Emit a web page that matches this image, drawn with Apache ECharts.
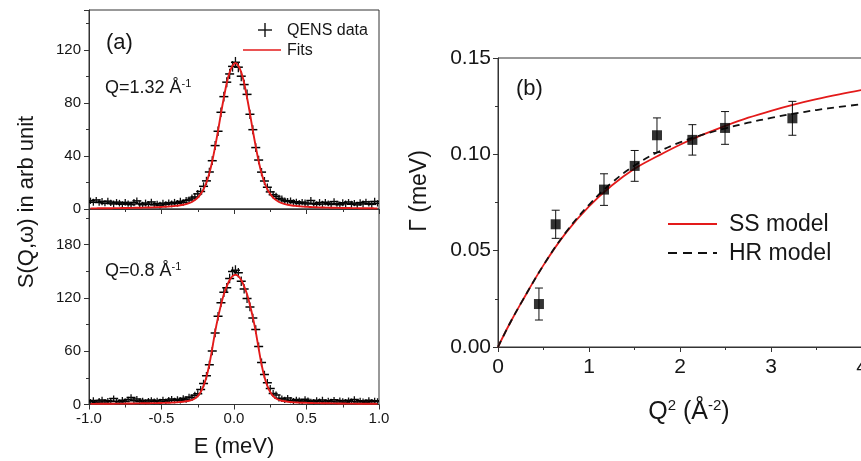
<!DOCTYPE html>
<html><head><meta charset="utf-8">
<script src="https://cdn.jsdelivr.net/npm/echarts@6/dist/echarts.min.js"></script>
<style>html,body{margin:0;padding:0;background:#fff}#c{width:861px;height:461px}</style>
</head><body><div id="c"></div>
<script>
// ---------- panel (a): energy transfer grid (meV) ----------
const energy = [
-0.99,-0.97,-0.95,-0.93,-0.91,-0.89,-0.87,-0.85,-0.83,-0.81,
-0.79,-0.77,-0.75,-0.73,-0.71,-0.69,-0.67,-0.65,-0.63,-0.61,
-0.59,-0.57,-0.55,-0.53,-0.51,-0.49,-0.47,-0.45,-0.43,-0.41,
-0.39,-0.37,-0.35,-0.33,-0.31,-0.29,-0.27,-0.25,-0.23,-0.21,
-0.19,-0.17,-0.15,-0.13,-0.11,-0.09,-0.07,-0.05,-0.03,-0.01,
0.01,0.03,0.05,0.07,0.09,0.11,0.13,0.15,0.17,0.19,
0.21,0.23,0.25,0.27,0.29,0.31,0.33,0.35,0.37,0.39,
0.41,0.43,0.45,0.47,0.49,0.51,0.53,0.55,0.57,0.59,
0.61,0.63,0.65,0.67,0.69,0.71,0.73,0.75,0.77,0.79,
0.81,0.83,0.85,0.87,0.89,0.91,0.93,0.95,0.97,0.99];

// Q = 1.32 1/A
const qensTop = [
6.2,5.1,6.8,4.9,5.6,4.2,5.9,4.6,3.8,5.2,
4.4,3.6,5.0,4.1,3.3,4.8,6.1,3.9,3.2,4.5,
3.6,5.3,3.1,4.0,2.9,4.4,3.5,4.8,3.9,5.1,
4.3,5.8,4.9,6.4,6.9,8.2,9.1,11.4,13.2,17.1,
21.2,27.9,36.4,47.8,58.6,72.9,84.7,95.6,101.8,107.5,
110.6,106.9,100.1,93.8,86.4,71.4,59.8,46.3,36.9,27.8,
21.1,16.4,12.9,10.8,9.6,8.1,7.4,6.2,5.6,6.3,
4.8,5.5,4.1,5.2,4.6,3.8,6.4,4.3,3.5,4.9,
3.7,5.1,4.2,3.4,5.6,4.0,3.2,4.7,3.9,5.3,
3.6,4.4,3.1,4.8,3.8,5.4,4.1,3.5,5.7,4.3];
const errTop = [
2.4,2.6,2.3,2.5,2.7,2.2,2.5,2.4,2.6,2.3,
2.5,2.2,2.6,2.4,2.3,2.7,2.5,2.4,2.2,2.6,
2.3,2.5,2.4,2.2,2.6,2.5,2.3,2.4,2.6,2.5,
2.5,2.6,2.4,2.7,2.6,2.8,2.7,2.9,2.8,3.0,
3.1,3.2,3.3,3.4,3.5,3.6,3.7,3.8,3.9,4.0,
4.0,3.9,3.8,3.7,3.6,3.5,3.4,3.3,3.2,3.1,
3.0,2.9,2.8,2.8,2.7,2.6,2.7,2.5,2.6,2.4,
2.5,2.3,2.6,2.4,2.5,2.2,2.7,2.4,2.3,2.6,
2.5,2.4,2.2,2.6,2.5,2.3,2.4,2.7,2.5,2.2,
2.6,2.4,2.3,2.5,2.6,2.4,2.2,2.5,2.7,2.4];
const fitTop = [
0.47,0.49,0.5,0.52,0.54,0.56,0.58,0.61,0.63,0.66,
0.69,0.72,0.75,0.79,0.83,0.87,0.92,0.97,1.02,1.08,
1.15,1.22,1.3,1.4,1.5,1.6,1.75,1.9,2.1,2.3,
2.5,2.8,3.2,3.7,4.4,5.3,6.7,8.6,11.3,15,
20,27,36,47,59,72,84,95,103,108,
110,108,103,95,84,72,59,47,36,27,
20,15,11.3,8.6,6.7,5.3,4.4,3.7,3.2,2.8,
2.5,2.3,2.1,1.9,1.75,1.6,1.5,1.4,1.3,1.22,
1.15,1.08,1.02,0.97,0.92,0.87,0.83,0.79,0.75,0.72,
0.69,0.66,0.63,0.61,0.58,0.56,0.54,0.52,0.5,0.49];

// Q = 0.8 1/A
const qensBot = [
3.1,4.6,2.4,3.8,5.2,2.9,4.1,3.3,6.8,3.6,
2.7,4.9,3.4,5.6,7.9,4.2,6.3,3.1,4.7,2.6,
3.9,5.1,3.3,4.4,2.8,5.3,3.7,4.9,6.2,4.5,
5.8,4.6,6.9,5.4,8.3,7.6,10.4,12.1,16.8,23.6,
32.4,44.8,60.1,80.6,99.3,114.6,126.2,131.5,141.8,149.6,
151.2,148.3,138.7,130.1,119.4,109.8,97.2,84.5,65.3,47.2,
33.8,24.6,17.9,12.4,10.6,7.1,6.4,5.2,7.3,4.8,
3.9,5.6,4.3,3.2,5.9,4.4,3.6,2.8,4.7,3.5,
5.2,2.9,4.1,3.3,5.4,2.7,4.5,3.8,2.6,4.9,
3.4,5.7,2.9,4.2,3.6,2.4,4.8,3.2,4.1,3.5];
const errBot = [
3.2,3.5,3.0,3.4,3.6,3.1,3.3,3.5,3.2,3.4,
3.0,3.6,3.3,3.1,3.5,3.4,3.2,3.6,3.0,3.3,
3.5,3.1,3.4,3.2,3.6,3.3,3.0,3.5,3.4,3.2,
3.4,3.5,3.6,3.5,3.7,3.8,3.9,4.0,4.1,4.2,
4.3,4.5,4.6,4.8,4.9,5.0,5.1,5.2,5.3,5.4,
5.5,5.4,5.3,5.2,5.1,5.0,4.9,4.8,4.6,4.5,
4.3,4.2,4.1,4.0,3.9,3.8,3.7,3.6,3.5,3.5,
3.4,3.2,3.5,3.1,3.4,3.6,3.0,3.3,3.5,3.2,
3.4,3.1,3.6,3.3,3.0,3.5,3.4,3.2,3.6,3.1,
3.3,3.5,3.0,3.4,3.2,3.6,3.3,3.1,3.5,3.4];
const fitBot = [
0.72,0.74,0.76,0.78,0.8,0.83,0.86,0.89,0.92,0.95,
0.98,1.02,1.06,1.1,1.15,1.2,1.25,1.3,1.35,1.4,
1.45,1.5,1.55,1.6,1.7,1.8,1.9,2.0,2.1,2.3,
2.5,2.8,3.1,3.6,4.2,5.2,6.8,9.5,14,21,
31,45,63,82,98,112,124,133,140,144.5,
146,144.5,140,133,124,112,98,82,63,45,
31,21,14,9.5,6.8,5.2,4.2,3.6,3.1,2.8,
2.5,2.3,2.1,2.0,1.9,1.8,1.7,1.6,1.55,1.5,
1.45,1.4,1.35,1.3,1.25,1.2,1.15,1.1,1.06,1.02,
0.98,0.95,0.92,0.89,0.86,0.83,0.8,0.78,0.76,0.74];

// ---------- panel (b) ----------
const q2 = [0.45, 0.634, 1.165, 1.502, 1.747, 2.136, 2.495, 3.235];
const gamma = [0.0223, 0.0637, 0.0817, 0.0940, 0.1099, 0.1075, 0.1137, 0.1187];
const gammaErr = [0.0083, 0.0073, 0.0082, 0.0080, 0.0090, 0.0079, 0.0085, 0.0088];
const modelQ2 = [0, 0.125, 0.25, 0.5, 0.75, 1.0, 1.25, 1.5, 1.75, 2.0, 2.25, 2.5, 2.75, 3.0, 3.25, 3.5, 3.75, 4.0];
const ssModel = [0, 0.0118, 0.0225, 0.0425, 0.0595, 0.0730, 0.0838, 0.0925, 0.0990, 0.1050, 0.1102, 0.1148, 0.1190, 0.1226, 0.1258, 0.1286, 0.1311, 0.1334];
const hrModel = [0, 0.0118, 0.0225, 0.0425, 0.0598, 0.0738, 0.0852, 0.0942, 0.1010, 0.1062, 0.1102, 0.1135, 0.1164, 0.1189, 0.1211, 0.1230, 0.1246, 0.1260];

const FONT = '"Liberation Sans", Arial, sans-serif';
const TXT = '#161616';
const AX = '#333';

function crossItem(params, api) {
  const x = api.value(0), y = api.value(1), e = api.value(2);
  const c = api.coord([x, y]), t = api.coord([x, y + e]), b = api.coord([x, y - e]);
  return { type: 'group', children: [
    { type: 'line', shape: { x1: c[0] - 4.5, y1: c[1], x2: c[0] + 4.5, y2: c[1] }, style: { stroke: '#000', lineWidth: 1.5 } },
    { type: 'line', shape: { x1: c[0], y1: t[1], x2: c[0], y2: b[1] }, style: { stroke: '#111', lineWidth: 1.3 } }
  ]};
}
function errItem(params, api) {
  const x = api.value(0), lo = api.value(1), hi = api.value(2);
  const a = api.coord([x, hi]), b = api.coord([x, lo]);
  const s = { stroke: '#111', lineWidth: 1 };
  return { type: 'group', children: [
    { type: 'line', shape: { x1: a[0], y1: a[1], x2: b[0], y2: b[1] }, style: s },
    { type: 'line', shape: { x1: a[0] - 4, y1: a[1], x2: a[0] + 4, y2: a[1] }, style: s },
    { type: 'line', shape: { x1: b[0] - 4, y1: b[1], x2: b[0] + 4, y2: b[1] }, style: s }
  ]};
}

function xAx(grid, min, max, interval, showLabel, fs, margin, fmt) {
  return {
    type: 'value', gridIndex: grid, min: min, max: max, interval: interval,
    axisLine: { show: true, onZero: false, lineStyle: { color: AX, width: 1 } },
    axisTick: { show: true, inside: false, length: 5, lineStyle: { color: AX } },
    minorTick: { show: true, splitNumber: 2, length: 3, lineStyle: { color: AX } },
    splitLine: { show: false }, minorSplitLine: { show: false },
    axisLabel: { show: showLabel, fontSize: fs, fontFamily: FONT, color: TXT, margin: margin, formatter: fmt }
  };
}
function yMajor(grid, min, max, interval, fs, margin, fmt) {
  return {
    type: 'value', gridIndex: grid, min: min, max: max, interval: interval, position: 'left',
    axisLine: { show: true, onZero: false, lineStyle: { color: AX, width: 1 } },
    axisTick: { show: true, length: 5, lineStyle: { color: AX } },
    splitLine: { show: false },
    axisLabel: { show: true, fontSize: fs, fontFamily: FONT, color: TXT, margin: margin, formatter: fmt }
  };
}
function yMinor(grid, min, max, interval) {
  return {
    type: 'value', gridIndex: grid, min: min, max: max, interval: interval, position: 'left', offset: 0,
    axisLine: { show: false, onZero: false }, axisTick: { show: true, length: 3, lineStyle: { color: AX } },
    splitLine: { show: false }, axisLabel: { show: false }
  };
}

const chart = echarts.init(document.getElementById('c'), null, { renderer: 'canvas' });
const gridBase = { show: true, borderColor: AX, borderWidth: 1, backgroundColor: 'transparent', containLabel: false, outerBoundsMode: 'none' };
const option = {
  animation: false,
  backgroundColor: '#fff',
  grid: [
    Object.assign({ left: 89, top: 10, width: 290, height: 199 }, gridBase),
    Object.assign({ left: 89, top: 209, width: 290, height: 195.5 }, gridBase),
    Object.assign({ left: 498, top: 58, width: 364, height: 289 }, gridBase)
  ],
  xAxis: [
    xAx(0, -1, 1, 0.5, false, 15, 7, v => v.toFixed(1)),
    xAx(1, -1, 1, 0.5, true, 15, 7, v => v.toFixed(1)),
    xAx(2, 0, 4, 1, true, 21, 10, v => String(v))
  ],
  yAxis: [
    yMajor(0, 0, 150, 40, 15, 8, v => (v % 40 === 0 ? String(v) : '')),
    yMinor(0, 0, 150, 20),
    yMajor(1, 0, 220, 60, 15, 8, v => (v % 60 === 0 ? String(v) : '')),
    yMinor(1, 0, 220, 30),
    yMajor(2, 0, 0.15, 0.05, 21, 7, v => v.toFixed(2)),
    yMinor(2, 0, 0.15, 0.025)
  ],
  series: [
    { type: 'custom', xAxisIndex: 0, yAxisIndex: 0, renderItem: crossItem, clip: true, z: 2,
      data: energy.map((e, i) => [e, qensTop[i], errTop[i]]) },
    { type: 'line', xAxisIndex: 0, yAxisIndex: 0, showSymbol: false, symbol: 'none', smooth: 0.2, z: 3,
      lineStyle: { color: '#e31a1a', width: 1.9 }, data: energy.map((e, i) => [e, fitTop[i]]) },
    { type: 'custom', xAxisIndex: 1, yAxisIndex: 2, renderItem: crossItem, clip: true, z: 2,
      data: energy.map((e, i) => [e, qensBot[i], errBot[i]]) },
    { type: 'line', xAxisIndex: 1, yAxisIndex: 2, showSymbol: false, symbol: 'none', smooth: 0.2, z: 3,
      lineStyle: { color: '#e31a1a', width: 1.9 }, data: energy.map((e, i) => [e, fitBot[i]]) },
    { type: 'line', xAxisIndex: 2, yAxisIndex: 4, showSymbol: false, symbol: 'none', smooth: 0.4, z: 3,
      lineStyle: { color: '#e31a1a', width: 1.8 }, data: modelQ2.map((q, i) => [q, ssModel[i]]) },
    { type: 'line', xAxisIndex: 2, yAxisIndex: 4, showSymbol: false, symbol: 'none', smooth: 0.4, z: 4,
      lineStyle: { color: '#111', width: 1.8, type: [7, 5] }, data: modelQ2.map((q, i) => [q, hrModel[i]]) },
    { type: 'custom', xAxisIndex: 2, yAxisIndex: 4, renderItem: errItem, z: 5,
      data: q2.map((q, i) => [q, gamma[i] - gammaErr[i], gamma[i] + gammaErr[i]]) },
    { type: 'scatter', xAxisIndex: 2, yAxisIndex: 4, symbol: 'rect', symbolSize: 10, z: 6,
      itemStyle: { color: '#000' }, data: q2.map((q, i) => [q, gamma[i]]) }
  ],
  graphic: [
    // panel (a) legend
    { type: 'line', shape: { x1: 258, y1: 30, x2: 272, y2: 30 }, style: { stroke: '#111', lineWidth: 1.4 } },
    { type: 'line', shape: { x1: 265, y1: 23, x2: 265, y2: 37 }, style: { stroke: '#111', lineWidth: 1.4 } },
    { type: 'text', x: 287, y: 31, style: { text: 'QENS data', font: '16px ' + FONT, fill: TXT, align: 'left', verticalAlign: 'middle' } },
    { type: 'line', shape: { x1: 243, y1: 50, x2: 281, y2: 50 }, style: { stroke: '#e31a1a', lineWidth: 1.5 } },
    { type: 'text', x: 287, y: 51, style: { text: 'Fits', font: '16px ' + FONT, fill: TXT, align: 'left', verticalAlign: 'middle' } },
    { type: 'text', x: 106, y: 43, style: { text: '(a)', font: '22px ' + FONT, fill: TXT, align: 'left', verticalAlign: 'middle' } },
    { type: 'text', x: 105, y: 88, style: { text: '{m|Q=1.32 Å}{s|-1}', fill: TXT, align: 'left', verticalAlign: 'middle',
      rich: { m: { fontSize: 18, fontFamily: FONT, lineHeight: 20, fill: TXT }, s: { fontSize: 11, fontFamily: FONT, lineHeight: 8, verticalAlign: 'top', fill: TXT } } } },
    { type: 'text', x: 105, y: 271, style: { text: '{m|Q=0.8 Å}{s|-1}', fill: TXT, align: 'left', verticalAlign: 'middle',
      rich: { m: { fontSize: 18, fontFamily: FONT, lineHeight: 20, fill: TXT }, s: { fontSize: 11, fontFamily: FONT, lineHeight: 8, verticalAlign: 'top', fill: TXT } } } },
    { type: 'text', x: 234, y: 447, style: { text: 'E (meV)', font: '22px ' + FONT, fill: TXT, align: 'center', verticalAlign: 'middle' } },
    { type: 'text', x: 27, y: 202, rotation: Math.PI / 2, style: { text: 'S(Q,ω) in arb unit', font: '22px ' + FONT, fill: TXT, align: 'center', verticalAlign: 'middle' } },
    // panel (b)
    { type: 'text', x: 516, y: 89, style: { text: '(b)', font: '22px ' + FONT, fill: TXT, align: 'left', verticalAlign: 'middle' } },
    { type: 'line', shape: { x1: 668, y1: 224, x2: 717, y2: 224 }, style: { stroke: '#e31a1a', lineWidth: 2 } },
    { type: 'text', x: 729, y: 225, style: { text: 'SS model', font: '23px ' + FONT, fill: TXT, align: 'left', verticalAlign: 'middle' } },
    { type: 'line', shape: { x1: 668, y1: 253, x2: 717, y2: 253 }, style: { stroke: '#111', lineWidth: 2, lineDash: [9, 6] } },
    { type: 'text', x: 729, y: 254, style: { text: 'HR model', font: '23px ' + FONT, fill: TXT, align: 'left', verticalAlign: 'middle' } },
    { type: 'text', x: 420, y: 191, rotation: Math.PI / 2, style: { text: 'Γ (meV)', font: '23px ' + FONT, fill: TXT, align: 'center', verticalAlign: 'middle' } },
    { type: 'text', x: 689, y: 412, style: { text: '{m|Q}{s|2}{m| (Å}{s|-2}{m|)}', fill: TXT, align: 'center', verticalAlign: 'middle',
      rich: { m: { fontSize: 25, fontFamily: FONT, lineHeight: 28, fill: TXT }, s: { fontSize: 15, fontFamily: FONT, lineHeight: 12, verticalAlign: 'top', fill: TXT } } } }
  ]
};
chart.setOption(option);
</script></body></html>
